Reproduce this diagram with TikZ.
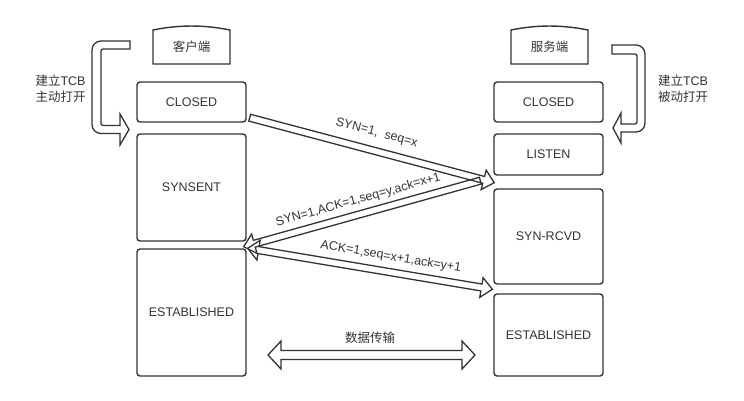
\documentclass[tikz,border=0pt]{standalone}
\usepackage{fontspec}
\setmainfont{Liberation Sans}
\newfontfamily\cjk{Noto Sans CJK SC}
\usetikzlibrary{calc}
\definecolor{ink}{HTML}{333333}
\newcommand\harrow[5]{%
  \coordinate (hH) at ($(#2)!#5!(#1)$);
  \draw[hollow] ($(#1)!#3!90:(#2)$) -- ($(hH)!#3!-90:(#1)$) -- ($(hH)!#4!-90:(#1)$) -- (#2)
    -- ($(hH)!#4!90:(#1)$) -- ($(hH)!#3!90:(#1)$) -- ($(#1)!#3!-90:(#2)$) -- cycle;
}
\newcommand\hdarrow[5]{%
  \coordinate (hH) at ($(#2)!#5!(#1)$);
  \coordinate (hT) at ($(#1)!#5!(#2)$);
  \draw[hollow] (#1) -- ($(hT)!#4!90:(#2)$) -- ($(hT)!#3!90:(#2)$) -- ($(hH)!#3!-90:(#1)$)
    -- ($(hH)!#4!-90:(#1)$) -- (#2) -- ($(hH)!#4!90:(#1)$) -- ($(hH)!#3!90:(#1)$)
    -- ($(hT)!#3!-90:(#2)$) -- ($(hT)!#4!-90:(#2)$) -- cycle;
}
\begin{document}
\begin{tikzpicture}[x=1pt,y=-1pt,
  font=\fontsize{12.5}{16}\selectfont, text=ink,
  box/.style={draw=ink, line width=1.4pt, rounded corners=3pt, minimum width=109pt, inner sep=0pt},
  hollow/.style={draw=ink, line width=1.3pt, line join=miter},
  headshape/.style={draw=ink, line width=1.4pt},
  lbl/.style={inner sep=0pt, sloped}
]
\useasboundingbox (0,0) rectangle (744,401);

% headers
\draw[headshape] (153,64) -- (153,30) .. controls (179,24.7) and (204,24.7) .. (230,30) -- (230,64) -- cycle;
\node (lhead) at (191.5,46.5) {\cjk 客户端};
\draw[headshape] (511,64) -- (511,30) .. controls (537,24.7) and (562,24.7) .. (588,30) -- (588,64) -- cycle;
\node (rhead) at (549.5,46.5) {\cjk 服务端};

% left column
\node[box, minimum height=40pt] (lclosed) at (191.5,102) {CLOSED};
\node[box, minimum height=107pt] (lsynsent) at (191.5,187.5) {SYNSENT};
\node[box, minimum height=127pt] (lest) at (191.5,312.5) {ESTABLISHED};

% right column
\node[box, minimum height=40pt] (rclosed) at (548.5,102) {CLOSED};
\node[box, minimum height=41pt] (rlisten) at (548.5,154.5) {LISTEN};
\node[box, minimum height=95pt] (rsynrcvd) at (548.5,236.5) {SYN-RCVD};
\node[box, minimum height=82pt] (rest) at (548.5,335) {ESTABLISHED};

% U-shaped arrows
\draw[hollow] (130,41) -- (101,41) .. controls (96,41) and (92,45) .. (92,50) -- (92,124.5)
  .. controls (92,129.5) and (96,133.5) .. (101,133.5) -- (120,133.5) -- (120,145) -- (129,129.5)
  -- (120,114) -- (120,125.5) -- (103,125.5) .. controls (102,125.5) and (101,124.5) .. (101,123.5)
  -- (101,51) .. controls (101,50) and (102,49) .. (103,49) -- (130,49) -- cycle;
\draw[hollow] (612,45) -- (636,45) .. controls (641,45) and (645,49) .. (645,54) -- (645,123)
  .. controls (645,128) and (641,132) .. (636,132) -- (621,132) -- (621,143) -- (613,128)
  -- (621,113) -- (621,124) -- (635,124) .. controls (636,124) and (637,123) .. (637,122)
  -- (637,56) .. controls (637,55) and (636,54) .. (635,54) -- (612,54) -- cycle;

\node[align=center] (llab) at (60.5,88.5) {{\cjk 建立}TCB\\{\cjk 主动打开}};
\node[align=center] (rlab) at (683,88.5) {{\cjk 建立}TCB\\{\cjk 被动打开}};

% handshake arrow end points
\coordinate (a1s) at ($(lclosed.south east)+(3,-5)$);
\coordinate (a1e) at ($(rlisten.south west)+(1,7)$);
\coordinate (a2s) at ($(rlisten.south west)+(-13,5)$);
\coordinate (a2e) at ($(lsynsent.south east)+(-3,5)$);
\coordinate (a3s) at ($(lest.north east)+(1,0)$);
\coordinate (a3e) at ($(rest.north west)+(-1,-4)$);
\coordinate (d1) at (268,355);
\coordinate (d2) at (475,355);

\harrow{a1s}{a1e}{3.5pt}{10pt}{11pt}
\harrow{a2s}{a2e}{3.5pt}{10pt}{11pt}
\hdarrow{a3s}{a3e}{3.5pt}{10pt}{11pt}
\hdarrow{d1}{d2}{4.5pt}{14pt}{13pt}

\path (a1s) -- (a1e) node[lbl, pos=0.5, above=12pt] (t1) {SYN=1,\ \ seq=x};
\path (a2e) -- (a2s) node[lbl, pos=0.5, above=8pt] (t2) {SYN=1,ACK=1,seq=y,ack=x+1};
\path (a3s) -- (a3e) node[lbl, pos=0.575, above=9pt] (t3) {ACK=1,seq=x+1,ack=y+1};
\node (dlab) at (370,338) {\cjk 数据传输};
\end{tikzpicture}
\end{document}
